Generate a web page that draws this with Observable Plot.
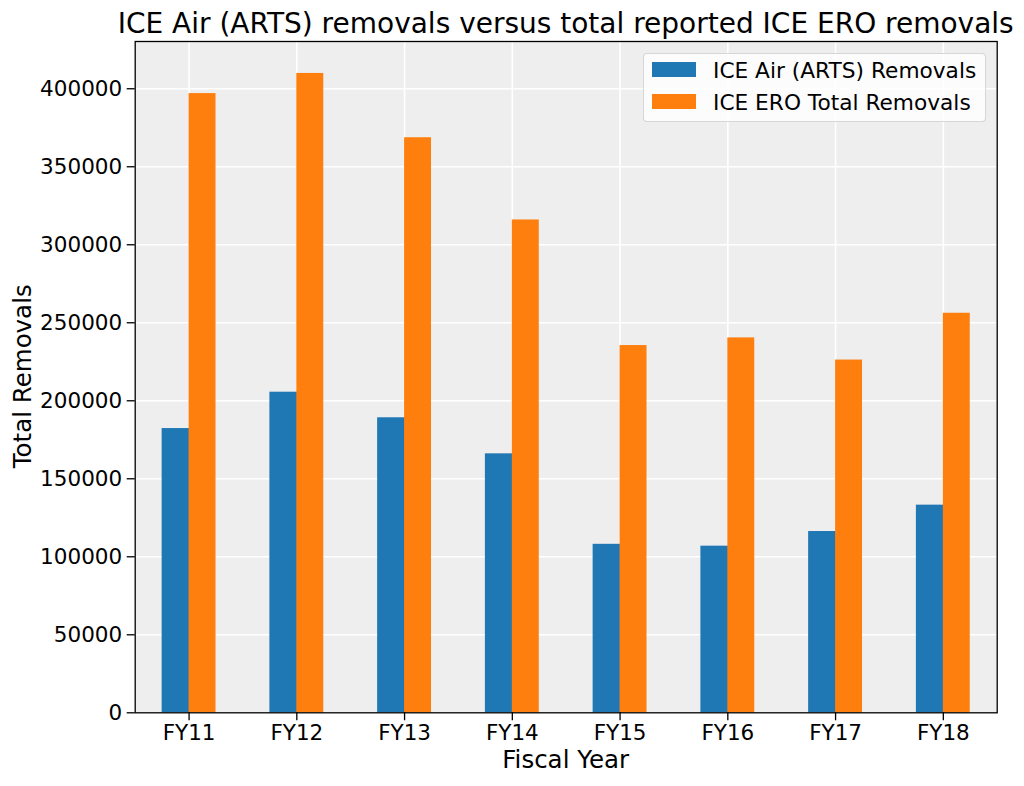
<!DOCTYPE html>
<html>
<head>
<meta charset="utf-8">
<script src="https://cdn.jsdelivr.net/npm/d3@7"></script>
<script src="https://cdn.jsdelivr.net/npm/@observablehq/plot@0.6"></script>
<style>
  body { margin: 0; background: #ffffff; }
  #wrap { position: relative; width: 1024px; height: 786px; font-family: "DejaVu Sans", sans-serif; color: #000; overflow: hidden; }
  #chart { position: absolute; left: 0; top: 0; }
  .abs { position: absolute; white-space: nowrap; }
  #title { left: 53.7px; width: 1024px; top: 9.6px; text-align: center; font-size: 28px; line-height: 28px; }
  #xlabel { left: 265.7px; width: 600px; top: 748.3px; text-align: center; font-size: 24.5px; line-height: 24.5px; }
  #ylabel { left: -127.5px; top: 364.25px; width: 300px; height: 24.5px; text-align: center; font-size: 24.5px; line-height: 24.5px; transform: rotate(-90deg); }
  #legend { left: 643.3px; top: 52.7px; width: 341px; height: 67px; background: rgba(255,255,255,0.8); border: 1px solid rgba(204,204,204,0.8); border-radius: 4px; }
  .sw { position: absolute; left: 7.4px; width: 44px; height: 14.7px; }
  .lt { position: absolute; left: 68.7px; font-size: 21.7px; line-height: 21.7px; white-space: nowrap; }
</style>
</head>
<body>
<div id="wrap">
  <div id="chart"></div>
  <div id="title" class="abs"></div>
  <div id="xlabel" class="abs"></div>
  <div id="ylabel" class="abs"></div>
  <div id="legend" class="abs"></div>
</div>
<script>
// ---- data ----
const years = ["FY11", "FY12", "FY13", "FY14", "FY15", "FY16", "FY17", "FY18"];
const airRemovals = [182200, 205500, 189100, 166000, 108000, 106800, 116200, 133100];
const eroRemovals = [396900, 409800, 368600, 315900, 235400, 240300, 226100, 256100];
const seriesNames = ["ICE Air (ARTS) Removals", "ICE ERO Total Removals"];
const seriesColors = ["#1f77b4", "#ff7f0e"];
const yTicks = [0, 50000, 100000, 150000, 200000, 250000, 300000, 350000, 400000];
const titleText = "ICE Air (ARTS) removals versus total reported ICE ERO removals";
const xLabelText = "Fiscal Year";
const yLabelText = "Total Removals";

// ---- layout ----
const W = 1024, H = 786;
const mL = 134.7, mR = 27.3, mT = 41, mB = 73.7;
const bw = (W - mL - mR) / years.length;

const air = years.map((y, i) => ({year: y, value: airRemovals[i]}));
const ero = years.map((y, i) => ({year: y, value: eroRemovals[i]}));

const chart = Plot.plot({
  width: W,
  height: H,
  marginLeft: mL,
  marginRight: mR,
  marginTop: mT,
  marginBottom: mB,
  style: {fontFamily: '"DejaVu Sans", sans-serif', fontSize: "21.5px", background: "transparent", color: "#000", overflow: "visible"},
  x: {domain: years, padding: 0, round: false, label: null},
  y: {domain: [0, d3.max(eroRemovals) * 1.05], label: null},
  marks: [
    Plot.frame({fill: "#eeeeee"}),
    Plot.gridX({stroke: "#ffffff", strokeOpacity: 1, strokeWidth: 1.6}),
    Plot.gridY(yTicks, {stroke: "#ffffff", strokeOpacity: 1, strokeWidth: 1.6}),
    Plot.barY(air, {x: "year", y: "value", fill: seriesColors[0], insetLeft: bw * 0.25, insetRight: bw * 0.5 - 1.5}),
    Plot.barY(ero, {x: "year", y: "value", fill: seriesColors[1], insetLeft: bw * 0.5, insetRight: bw * 0.25}),
    Plot.frame({stroke: "#000", strokeWidth: 1.3}),
    Plot.axisY(yTicks, {tickFormat: d3.format("d"), tickSize: 8, tickPadding: 5, fontSize: 21.5, label: null, stroke: "#000", strokeWidth: 1.3}),
    Plot.axisX({tickSize: 8, tickPadding: 4, fontSize: 21.5, label: null, stroke: "#000", strokeWidth: 1.3})
  ]
});
document.getElementById("chart").appendChild(chart);

document.getElementById("title").textContent = titleText;
document.getElementById("xlabel").textContent = xLabelText;
document.getElementById("ylabel").textContent = yLabelText;

const legend = document.getElementById("legend");
seriesNames.forEach((name, i) => {
  const sw = document.createElement("div");
  sw.className = "sw";
  sw.style.top = (8.6 + i * 32) + "px";
  sw.style.background = seriesColors[i];
  legend.appendChild(sw);
  const t = document.createElement("div");
  t.className = "lt";
  t.style.top = (6.4 + i * 32.4) + "px";
  t.textContent = name;
  legend.appendChild(t);
});
</script>
</body>
</html>
